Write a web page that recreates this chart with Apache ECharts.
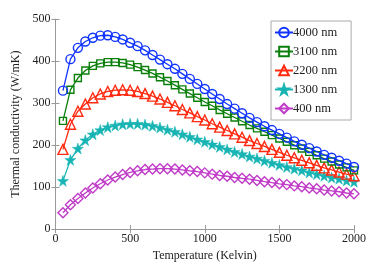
<!DOCTYPE html>
<html><head><meta charset="utf-8">
<script src="https://cdn.jsdelivr.net/npm/echarts@6/dist/echarts.min.js"></script>
<style>html,body{margin:0;padding:0;background:#fff}#c{width:375px;height:267px}</style>
</head><body><div id="c"></div>
<script>
const temperatures = [50,100,150,200,250,300,350,400,450,500,550,600,650,700,750,800,850,900,950,1000,1050,1100,1150,1200,1250,1300,1350,1400,1450,1500,1550,1600,1650,1700,1750,1800,1850,1900,1950,2000];
const seriesNames = ['4000 nm','3100 nm','2200 nm','1300 nm','400 nm'];
const k4000 = [330,405,432,447,456,461,462,458,452,444,436,426,415,404,393,382,370,358,346,334,322,310,298,287,276,265,255,245,236,227,218,209,201,193,185,177,170,163,156,148];
const k3100 = [258,332,360,378,389,395,398,398,396,392,386,379,371,362,353,343,333,323,313,303,294,284,275,266,257,248,240,232,224,216,208,200,192,184,176,168,161,154,147,140];
const k2200 = [190,250,281,298,313,322,328,331,332,331,328,323,317,310,302,294,285,277,268,260,251,243,235,227,219,211,204,197,190,183,176,170,164,158,152,146,141,136,131,127];
const k1300 = [115,165,192,212,226,236,243,247,250,251,251,249,246,242,237,232,226,220,214,208,202,196,190,184,179,173,168,163,158,153,148,144,140,135,131,127,123,120,116,113];
const k400 = [39,58,73,86,98,108,117,124,130,135,139,142,143,144,144,143,141,139,137,134,131,128,126,123,121,119,116,113,111,108,106,103,101,98,96,93,91,89,86,84];
const xTicks = {min:0,max:2000,interval:500};
const yTicks = {min:0,max:500,interval:100};

const values = [k4000,k3100,k2200,k1300,k400];
const colors = ['#1033ff','#0a7f0a','#ff2a10','#18b4b4','#c03cc8'];
const star = 'path://M50,0 L61,35 L98,35 L68,57 L79,91 L50,70 L21,91 L32,57 L2,35 L39,35 Z';
const symbols = ['circle','rect','triangle',star,'diamond'];
const sizes = [9,7,10,11,10];
const serif = 'Liberation Serif';

const series = values.map((v,i)=>({
  name: seriesNames[i], type:'line',
  data: temperatures.map((t,j)=>[t,v[j]]),
  symbol: symbols[i], symbolSize: sizes[i],
  lineStyle:{color:colors[i], width:1.3},
  itemStyle: i===3 ? {color:colors[i], borderColor:colors[i], borderWidth:0.5}
                   : {color:'rgba(255,255,255,0)', borderColor:colors[i], borderWidth:1.4},
  emphasis:{disabled:true}, animation:false, z: 10-i
}));

const axisCommon = {
  axisLine:{show:true,lineStyle:{color:'#999',width:1}},
  axisTick:{show:true,inside:true,length:4,lineStyle:{color:'#999'}},
  splitLine:{show:false}
};
const chart = echarts.init(document.getElementById('c'));
chart.setOption({
  animation:false,
  grid:{left:55.5,right:21,top:19.3,bottom:32.7,containLabel:false},
  legend:{
    orient:'vertical', left:271, top:21, width:81,
    padding:[5,14,5,3], itemGap:6, itemWidth:18, itemHeight:12,
    borderColor:'#aaa', borderWidth:1, backgroundColor:'#fff',
    textStyle:{fontFamily:serif,fontSize:12.5,color:'#222',padding:[0,0,0,-5]},
    data: seriesNames
  },
  xAxis:[
    Object.assign({type:'value',position:'bottom',...xTicks,
      name:'Temperature (Kelvin)',nameLocation:'middle',nameGap:16,
      nameTextStyle:{fontFamily:serif,fontSize:12,color:'#222'},
      axisLabel:{fontFamily:serif,fontSize:12,color:'#222',margin:4,formatter:v=>String(v)}},axisCommon),
    Object.assign({type:'value',position:'top',...xTicks,axisLabel:{show:false}},axisCommon)
  ],
  yAxis:[
    Object.assign({type:'value',position:'left',...yTicks,
      name:'Thermal conductivity (W/mK)',nameLocation:'middle',nameGap:27,
      nameTextStyle:{fontFamily:serif,fontSize:12,color:'#222'},
      axisLabel:{fontFamily:serif,fontSize:12,color:'#222',margin:5,formatter:v=>String(v)}},axisCommon),
    Object.assign({type:'value',position:'right',...yTicks,axisLabel:{show:false}},axisCommon)
  ],
  series: series
});
</script></body></html>
